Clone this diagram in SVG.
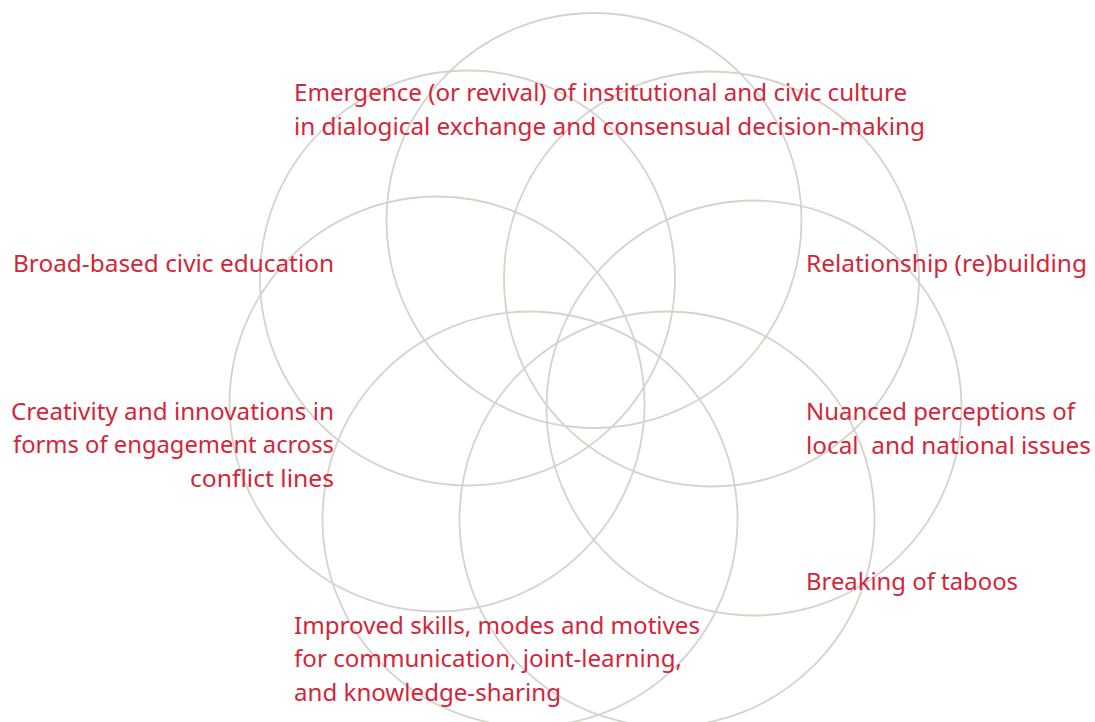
<svg xmlns="http://www.w3.org/2000/svg" width="1095" height="722" viewBox="0 0 1095 722">
<style>
.ring{fill:none;stroke:#d6d3cb;stroke-width:1.8}
.lbl{font-family:"Noto Sans","Open Sans","Liberation Sans",sans-serif;font-size:24.2px;fill:#d42539}
.end{text-anchor:end}
</style>
<rect width="1095" height="722" fill="#ffffff"/>
<g id="rings">
<circle id="ring-top" class="ring" cx="594" cy="220.5" r="207.5"/>
<circle id="ring-upper-left" class="ring" cx="467.5" cy="278" r="207.5"/>
<circle id="ring-upper-right" class="ring" cx="711.5" cy="279" r="207.5"/>
<circle id="ring-left" class="ring" cx="437" cy="404" r="207.5"/>
<circle id="ring-right" class="ring" cx="754" cy="408" r="207.5"/>
<circle id="ring-lower-left" class="ring" cx="530" cy="519" r="207.5"/>
<circle id="ring-lower-right" class="ring" cx="667" cy="519" r="207.5"/>
</g>
<g id="label-emergence">
<text class="lbl" x="294" y="101" textLength="613" lengthAdjust="spacingAndGlyphs">Emergence (or revival) of institutional and civic culture</text>
<text class="lbl" x="294" y="135" textLength="631" lengthAdjust="spacingAndGlyphs">in dialogical exchange and consensual decision-making</text>
</g>
<g id="label-civic-education">
<text class="lbl" x="13" y="272" textLength="321" lengthAdjust="spacingAndGlyphs">Broad-based civic education</text>
</g>
<g id="label-relationship">
<text class="lbl" x="806" y="272" textLength="281" lengthAdjust="spacingAndGlyphs">Relationship (re)building</text>
</g>
<g id="label-creativity">
<text class="lbl" x="11" y="420" textLength="323" lengthAdjust="spacingAndGlyphs">Creativity and innovations in</text>
<text class="lbl" x="13" y="453" textLength="321" lengthAdjust="spacingAndGlyphs">forms of engagement across</text>
<text class="lbl" x="190" y="487" textLength="144" lengthAdjust="spacingAndGlyphs">conflict lines</text>
</g>
<g id="label-nuanced">
<text class="lbl" x="806" y="420" textLength="269" lengthAdjust="spacingAndGlyphs">Nuanced perceptions of</text>
<text class="lbl" x="806" y="454" textLength="285" lengthAdjust="spacingAndGlyphs" xml:space="preserve">local  and national issues</text>
</g>
<g id="label-taboos">
<text class="lbl" x="806" y="590" textLength="212" lengthAdjust="spacingAndGlyphs">Breaking of taboos</text>
</g>
<g id="label-skills">
<text class="lbl" x="294" y="634" textLength="406" lengthAdjust="spacingAndGlyphs">Improved skills, modes and motives</text>
<text class="lbl" x="294" y="667" textLength="388" lengthAdjust="spacingAndGlyphs">for communication, joint-learning,</text>
<text class="lbl" x="294" y="701" textLength="267" lengthAdjust="spacingAndGlyphs">and knowledge-sharing</text>
</g>
</svg>
